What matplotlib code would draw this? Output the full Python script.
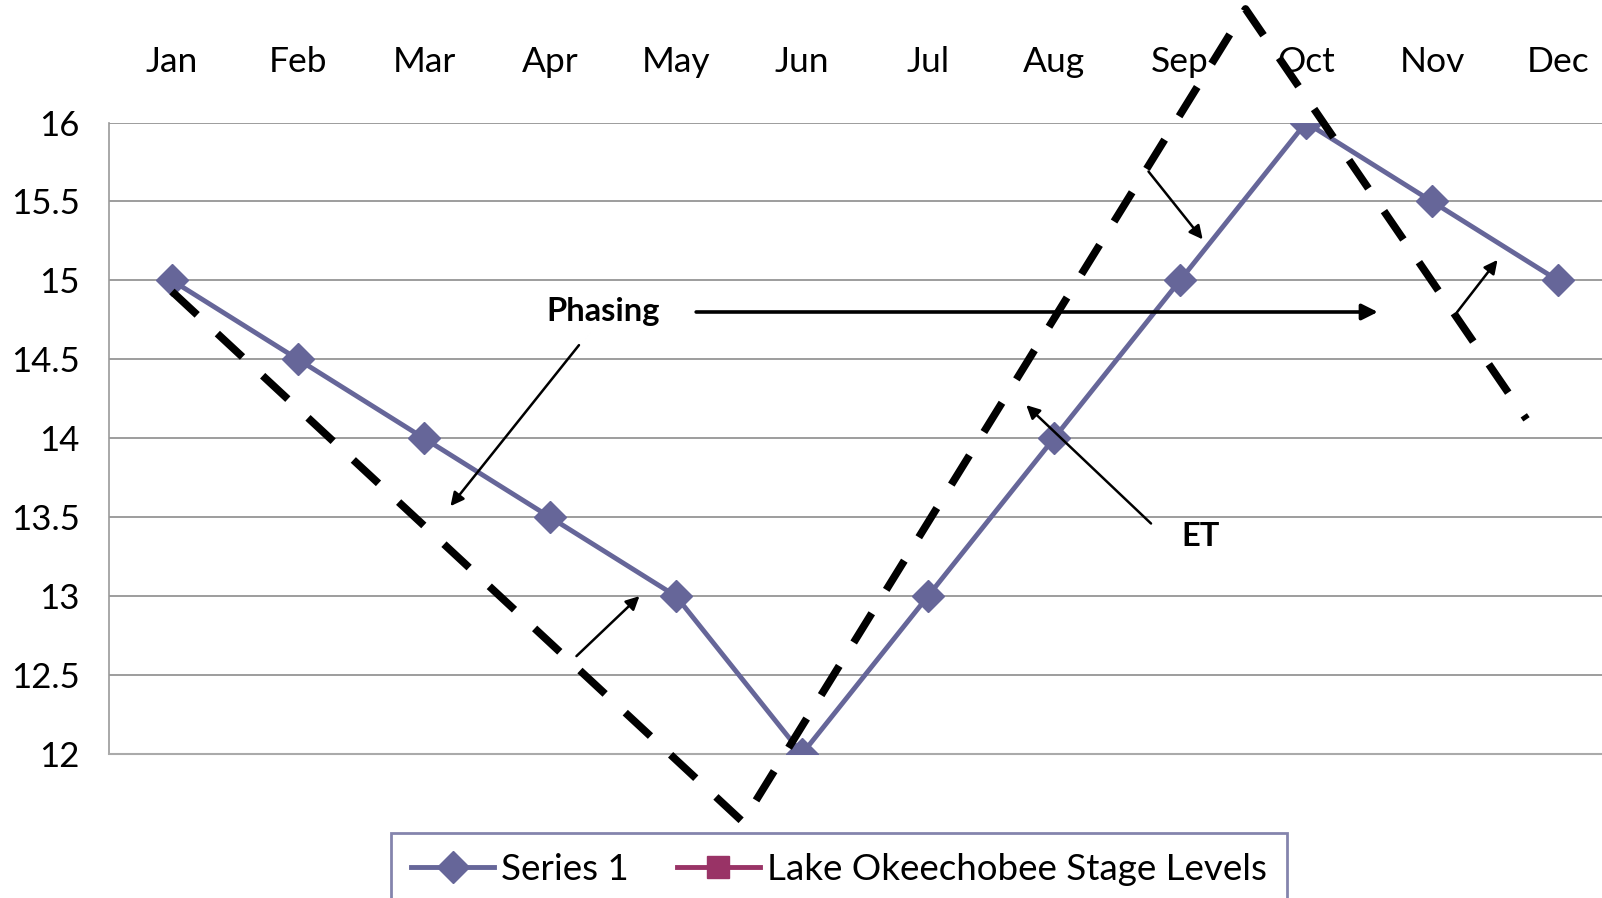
import matplotlib.pyplot as plt

# month categories along the top axis
months = ['Jan', 'Feb', 'Mar', 'Apr', 'May', 'Jun',
          'Jul', 'Aug', 'Sep', 'Oct', 'Nov', 'Dec']
series1 = [15, 14.5, 14, 13.5, 13, 12, 13, 14, 15, 16, 15.5, 15]
yticks = [12, 12.5, 13, 13.5, 14, 14.5, 15, 15.5, 16]
ytick_labels = ['12', '12.5', '13', '13.5', '14', '14.5', '15', '15.5', '16']

# dashed guide (month position, stage)
guide_x = [1, 5.53, 9.52, 11.75]
guide_y = [14.93, 11.57, 16.72, 14.12]

# small arrows: (x from, y from, x to, y to)
arrows = [
    (4.23, 14.59, 3.21, 13.57),
    (4.21, 12.62, 4.71, 13.00),
    (8.75, 15.69, 9.18, 15.26),
    (8.77, 13.46, 7.78, 14.21),
    (11.20, 14.80, 11.52, 15.13),
]
phasing_arrow = (5.16, 14.80, 10.57, 14.80)
labels = [('Phasing', 4.42, 14.80), ('ET', 9.16, 13.38)]

FONT = ['Lato', 'DejaVu Sans']
plt.rcParams['font.family'] = FONT

fig = plt.figure(figsize=(16.02, 8.98), dpi=100)
left = 109 / 1602
ax = fig.add_axes([left, 0.1604, 1 - left, 0.8635 - 0.1604])

x = list(range(1, 13))
ax.plot(x, series1, color='#666699', lw=3.5, marker='D', ms=16,
        label='Series 1', zorder=3)
ax.plot([], [], color='#993366', lw=3.5, marker='s', ms=16,
        label='Lake Okeechobee Stage Levels')

ax.plot(guide_x, guide_y, color='black', lw=5.5, dashes=(4.5, 3.6),
        dash_capstyle='butt', clip_on=False, zorder=4)

for x0, y0, x1, y1 in arrows:
    ax.annotate('', xy=(x1, y1), xytext=(x0, y0), annotation_clip=False,
                arrowprops=dict(arrowstyle='-|>', color='black', lw=1.8,
                                mutation_scale=20, shrinkA=0, shrinkB=0))
x0, y0, x1, y1 = phasing_arrow
ax.annotate('', xy=(x1, y1), xytext=(x0, y0), annotation_clip=False,
            arrowprops=dict(arrowstyle='-|>', color='black', lw=2.6,
                            mutation_scale=24, shrinkA=0, shrinkB=0))
for txt, tx, ty in labels:
    ax.text(tx, ty, txt, fontsize=23.5, fontweight='bold',
            ha='center', va='center')

ax.set_xlim(0.5, 0.5 + (1602 - 109) / 126)
ax.set_ylim(12, 16)
ax.set_xticks(x)
ax.set_xticklabels(months, fontsize=25.5)
ax.xaxis.tick_top()
ax.set_yticks(yticks)
ax.set_yticklabels(ytick_labels, fontsize=25)
ax.tick_params(axis='x', length=0, pad=32)
ax.tick_params(axis='y', length=0, pad=21)
ax.grid(axis='y', color='#8c8c8c', lw=1.2)
ax.set_axisbelow(True)
for side in ['top', 'right']:
    ax.spines[side].set_visible(False)
ax.spines['left'].set_color('#999999')
ax.spines['bottom'].set_color('#aaaaaa')
ax.spines['left'].set_linewidth(1.2)
ax.spines['bottom'].set_linewidth(1.5)

leg = fig.legend(loc='upper left', bbox_to_anchor=(391 / 1602, 1 - 833 / 898),
                 ncol=2, fontsize=26.5, frameon=True, fancybox=False,
                 borderpad=0.55, borderaxespad=0, handlelength=2.25,
                 handletextpad=0.2, columnspacing=1.3)
leg.get_frame().set_edgecolor('#666699')
leg.get_frame().set_linewidth(2)

fig.savefig('out.png', dpi=100)
